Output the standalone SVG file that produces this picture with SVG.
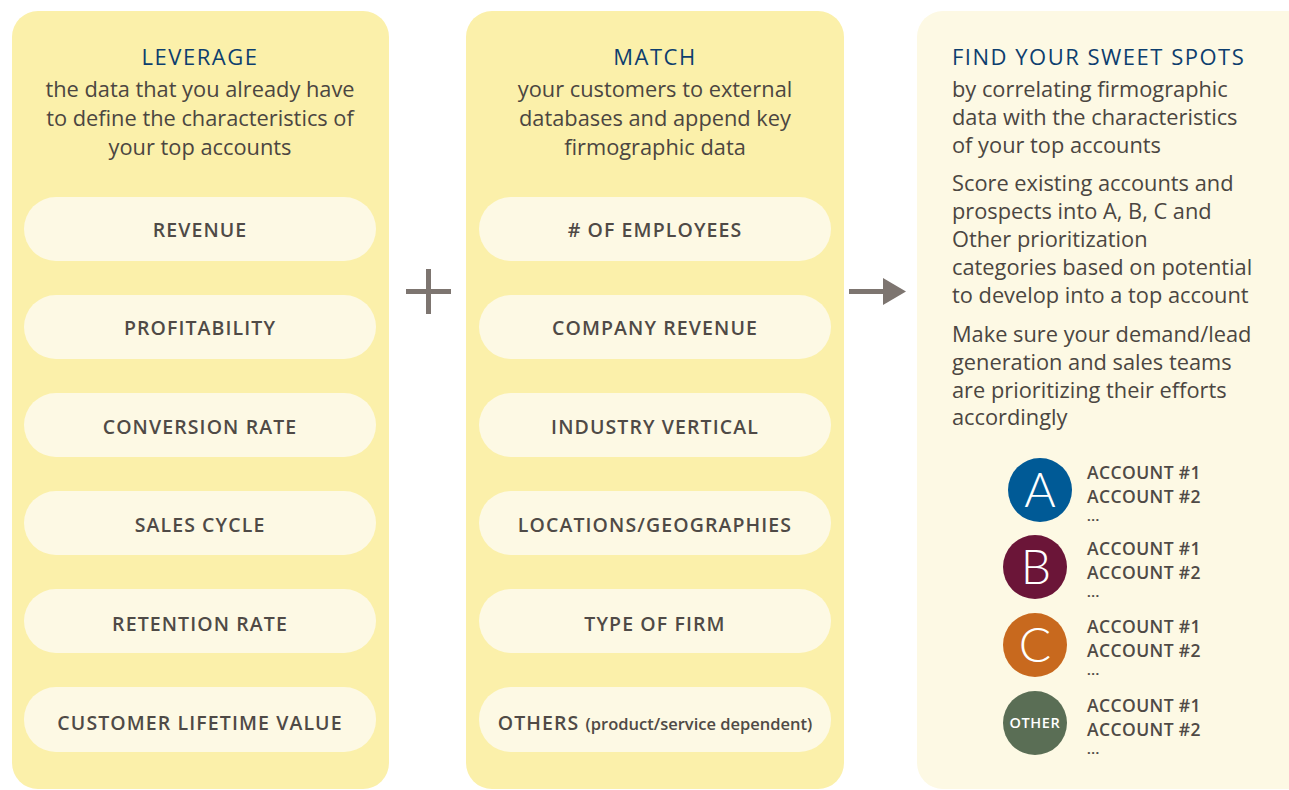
<svg xmlns="http://www.w3.org/2000/svg" width="1289" height="790" viewBox="0 0 1289 790">
  <style>
    .panel { fill: #fbf0aa; }
    .panel-light { fill: #fdf9e4; }
    .pill { fill: #fdf9e4; }
    .title { font-family: "Open Sans", Lato, sans-serif; font-size: 22px; fill: #0d3e6e; letter-spacing: 1.5px; }
    .sub { font-family: "Open Sans", Lato, sans-serif; font-size: 21.8px; fill: #4b4641; }
    .pill-text { font-family: "Open Sans", Lato, sans-serif; font-size: 19.5px; font-weight: 600; fill: #4f4a46; letter-spacing: 1.1px; text-anchor: middle; }
    .small { font-family: "Open Sans", Lato, sans-serif; font-size: 16.5px; font-weight: 600; fill: #4f4a46; }
    .acct { font-family: "Open Sans", Lato, sans-serif; font-size: 17.5px; font-weight: 600; fill: #4f4a46; letter-spacing: 0.4px; }
    .more { font-family: "Open Sans", Lato, sans-serif; font-size: 13px; font-weight: 700; fill: #4f4a46; letter-spacing: 0.5px; }
    .letter { font-family: Lato, "Open Sans", sans-serif; font-size: 48px; font-weight: 300; fill: #ffffff; text-anchor: middle; }
    .mid { text-anchor: middle; }
    .op { fill: #7d7570; }
  </style>

  <!-- Column 1: leverage -->
  <g id="leverage">
    <rect class="panel" x="12" y="11" width="377" height="778" rx="26"/>
    <text class="title mid" x="200" y="65">LEVERAGE</text>
    <text class="sub mid" x="200" y="97">the data that you already have</text>
    <text class="sub mid" x="200" y="126">to define the characteristics of</text>
    <text class="sub mid" x="200" y="155">your top accounts</text>
  </g>
  <g id="revenue"><rect class="pill" x="24" y="197" width="352" height="64" rx="32"/><text class="pill-text" x="200" y="237">REVENUE</text></g>
  <g id="profitability"><rect class="pill" x="24" y="295" width="352" height="64" rx="32"/><text class="pill-text" x="200" y="335">PROFITABILITY</text></g>
  <g id="conversion-rate"><rect class="pill" x="24" y="393" width="352" height="64" rx="32"/><text class="pill-text" x="200" y="434">CONVERSION RATE</text></g>
  <g id="sales-cycle"><rect class="pill" x="24" y="491" width="352" height="64" rx="32"/><text class="pill-text" x="200" y="532">SALES CYCLE</text></g>
  <g id="retention-rate"><rect class="pill" x="24" y="589" width="352" height="64" rx="32"/><text class="pill-text" x="200" y="631">RETENTION RATE</text></g>
  <g id="clv"><rect class="pill" x="24" y="687" width="352" height="65" rx="32"/><text class="pill-text" x="200" y="730">CUSTOMER LIFETIME VALUE</text></g>

  <!-- Column 2: match -->
  <g id="match">
    <rect class="panel" x="466" y="11" width="378" height="778" rx="26"/>
    <text class="title mid" x="655" y="65">MATCH</text>
    <text class="sub mid" x="655" y="97">your customers to external</text>
    <text class="sub mid" x="655" y="126">databases and append key</text>
    <text class="sub mid" x="655" y="155">firmographic data</text>
  </g>
  <g id="employees"><rect class="pill" x="479" y="197" width="352" height="64" rx="32"/><text class="pill-text" x="655" y="237"># OF EMPLOYEES</text></g>
  <g id="company-revenue"><rect class="pill" x="479" y="295" width="352" height="64" rx="32"/><text class="pill-text" x="655" y="335">COMPANY REVENUE</text></g>
  <g id="industry"><rect class="pill" x="479" y="393" width="352" height="64" rx="32"/><text class="pill-text" x="655" y="434">INDUSTRY VERTICAL</text></g>
  <g id="locations"><rect class="pill" x="479" y="491" width="352" height="64" rx="32"/><text class="pill-text" x="655" y="532">LOCATIONS/GEOGRAPHIES</text></g>
  <g id="firm-type"><rect class="pill" x="479" y="589" width="352" height="64" rx="32"/><text class="pill-text" x="655" y="631">TYPE OF FIRM</text></g>
  <g id="others"><rect class="pill" x="479" y="687" width="352" height="65" rx="32"/><text class="pill-text" x="655" y="730">OTHERS <tspan class="small" letter-spacing="0">(product/service dependent)</tspan></text></g>

  <!-- Column 3: sweet spots -->
  <g id="sweet-spots">
    <rect class="panel-light" x="917" y="11" width="400" height="778" rx="26"/>
    <text class="title" x="952" y="65">FIND YOUR SWEET SPOTS</text>
    <text class="sub" x="952" y="97">by correlating firmographic</text>
    <text class="sub" x="952" y="125">data with the characteristics</text>
    <text class="sub" x="952" y="153">of your top accounts</text>
    <text class="sub" x="952" y="191">Score existing accounts and</text>
    <text class="sub" x="952" y="219">prospects into A, B, C and</text>
    <text class="sub" x="952" y="247">Other prioritization</text>
    <text class="sub" x="952" y="275">categories based on potential</text>
    <text class="sub" x="952" y="303">to develop into a top account</text>
    <text class="sub" x="952" y="342">Make sure your demand/lead</text>
    <text class="sub" x="952" y="370">generation and sales teams</text>
    <text class="sub" x="952" y="398">are prioritizing their efforts</text>
    <text class="sub" x="952" y="425">accordingly</text>
  </g>

  <g id="tier-a">
    <circle cx="1040" cy="490" r="32" fill="#005a96"/>
    <text class="letter" x="1040" y="507">A</text>
    <text class="acct" x="1087" y="479">ACCOUNT #1</text>
    <text class="acct" x="1087" y="503">ACCOUNT #2</text>
    <text class="more" x="1087" y="521">...</text>
  </g>
  <g id="tier-b">
    <circle cx="1035" cy="567" r="32" fill="#6b1538"/>
    <text class="letter" x="1036" y="584">B</text>
    <text class="acct" x="1087" y="555">ACCOUNT #1</text>
    <text class="acct" x="1087" y="579">ACCOUNT #2</text>
    <text class="more" x="1087" y="597">...</text>
  </g>
  <g id="tier-c">
    <circle cx="1035" cy="645" r="32" fill="#c8691e"/>
    <text class="letter" x="1035" y="662">C</text>
    <text class="acct" x="1087" y="633">ACCOUNT #1</text>
    <text class="acct" x="1087" y="657">ACCOUNT #2</text>
    <text class="more" x="1087" y="675">...</text>
  </g>
  <g id="tier-other">
    <circle cx="1035" cy="723" r="32" fill="#5a6e55"/>
    <text x="1035" y="728" text-anchor="middle" font-family="'Open Sans', Lato, sans-serif" font-size="14.5px" font-weight="600" letter-spacing="0.6" fill="#ffffff">OTHER</text>
    <text class="acct" x="1087" y="712">ACCOUNT #1</text>
    <text class="acct" x="1087" y="736">ACCOUNT #2</text>
    <text class="more" x="1087" y="754">...</text>
  </g>

  <!-- Operators between the columns -->
  <g id="connectors">
    <rect class="op" x="426" y="269" width="5" height="45"/>
    <rect class="op" x="406" y="289" width="45" height="5"/>
    <rect class="op" x="849" y="289" width="36" height="5"/>
    <polygon class="op" points="883,278 906,291.5 883,305"/>
  </g>
</svg>
